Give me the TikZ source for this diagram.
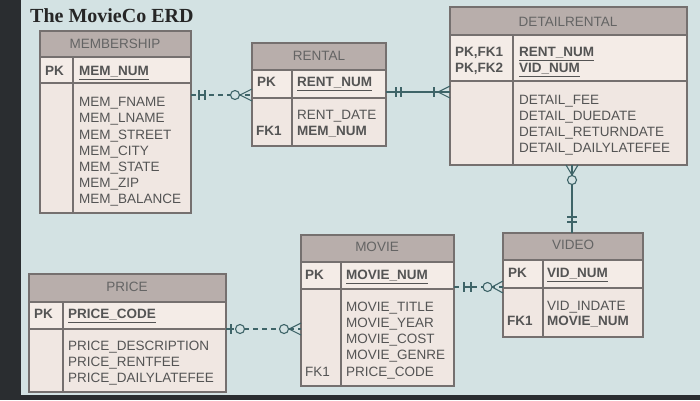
\documentclass[tikz,border=0pt]{standalone}
\usepackage{fontspec}
\setmainfont{Liberation Sans}
\newfontfamily\titlefont{Liberation Serif}
\definecolor{bgc}{HTML}{D3E2E3}
\definecolor{darkc}{HTML}{2A2D30}
\definecolor{hdrfill}{HTML}{B8AEAB}
\definecolor{bodyc}{HTML}{F0E7E2}
\definecolor{pkc}{HTML}{F4ECE7}
\definecolor{boxc}{HTML}{75706F}
\definecolor{hdrc}{HTML}{646464}
\definecolor{attrc}{HTML}{545454}
\definecolor{relc}{HTML}{3E6468}
\definecolor{titlec}{HTML}{262626}
\tikzset{
  ebox/.style={draw=boxc, line width=1.1pt, fill=bodyc, inner sep=0pt, outer sep=0pt, anchor=north west},
  boxline/.style={draw=boxc, line width=1.1pt},
  txt/.style={inner sep=0pt, text height=9.7pt, text depth=0pt, font=\fontsize{13.5}{15}\selectfont},
  hdrtxt/.style={txt, text=hdrc},
  attr/.style={txt, anchor=west, text=attrc},
  keylbl/.style={attr, font=\fontsize{13.5}{15}\selectfont\bfseries},
  rel/.style={draw=relc, line width=1.1pt},
  reld/.style={rel, dash pattern=on 5pt off 4pt},
}
% #1 name, #2 x1, #3 y1, #4 x2, #5 y2, #6 header bottom, #7 pk bottom, #8 divider x
\newcommand\erdentity[8]{%
  \node[ebox, minimum width={#4-#2}, minimum height={#5-#3}] (#1) at (#2,#3) {};
  \fill[hdrfill] (#2,#3) rectangle (#4,#6);
  \fill[pkc] (#2,#6) rectangle (#4,#7);
  \draw[boxline] (#2,#6) -- (#4,#6);
  \draw[boxline] (#2,#7) -- (#4,#7);
  \draw[boxline] (#8,#6) -- (#8,#5);
  \draw[boxline] (#1.north west) rectangle (#1.south east);
}
\begin{document}
\begin{tikzpicture}[x=1pt,y=-1pt]
\useasboundingbox (0,0) rectangle (700,400);
\fill[bgc] (0,0) rectangle (700,400);
\fill[darkc] (0,0) rectangle (21,400);
\fill[darkc] (0,395) rectangle (700,400);

\node[anchor=west, inner sep=0pt, text=titlec, font=\titlefont\bfseries\fontsize{20}{22}\selectfont] (title) at (30,16) {The MovieCo ERD};

% entities
\erdentity{membership}{40}{31}{191}{213}{57}{83}{73}
\erdentity{rental}{252}{43}{386}{146}{70}{98}{292}
\erdentity{detailrental}{450}{7}{687}{165}{35}{81}{513}
\erdentity{video}{503}{233}{643}{337}{260}{288}{543}
\erdentity{movie}{301}{235}{454}{386}{262}{289}{341}
\erdentity{price}{29}{274}{226}{392}{302}{329}{63}

% MEMBERSHIP texts
\node[hdrtxt] (memh) at (115,44) {MEMBERSHIP};
\node[keylbl] (mempk) at (45,71) {PK};
\node[keylbl] (memk) at (79,71) {\underline{MEM\_NUM}};
\node[attr] (m1) at (79,102) {MEM\_FNAME};
\node[attr] (m2) at (79,118) {MEM\_LNAME};
\node[attr] (m3) at (79,134.5) {MEM\_STREET};
\node[attr] (m4) at (79,150.5) {MEM\_CITY};
\node[attr] (m5) at (79,166.5) {MEM\_STATE};
\node[attr] (m6) at (79,182.5) {MEM\_ZIP};
\node[attr] (m7) at (79,199) {MEM\_BALANCE};

% RENTAL texts
\node[hdrtxt] (renh) at (319,56) {RENTAL};
\node[keylbl] (renpk) at (257,82) {PK};
\node[keylbl] (renk) at (297,82) {\underline{RENT\_NUM}};
\node[attr] (r1) at (297,115) {RENT\_DATE};
\node[keylbl] (r2) at (297,131) {MEM\_NUM};
\node[keylbl] (renfk) at (256,131) {FK1};

% DETAILRENTAL texts
\node[hdrtxt] (deth) at (568,22) {DETAILRENTAL};
\node[keylbl] (detpk1) at (455,52) {PK,FK1};
\node[keylbl] (detpk2) at (455,68) {PK,FK2};
\node[keylbl] (detk1) at (519,52) {\underline{RENT\_NUM}};
\node[keylbl] (detk2) at (519,68) {\underline{VID\_NUM}};
\node[attr] (d1) at (519,100) {DETAIL\_FEE};
\node[attr] (d2) at (519,116) {DETAIL\_DUEDATE};
\node[attr] (d3) at (519,132) {DETAIL\_RETURNDATE};
\node[attr] (d4) at (519,148) {DETAIL\_DAILYLATEFEE};

% VIDEO texts
\node[hdrtxt] (vidh) at (573,245) {VIDEO};
\node[keylbl] (vidpk) at (508,273) {PK};
\node[keylbl] (vidk) at (547,273) {\underline{VID\_NUM}};
\node[attr] (v1) at (547,306) {VID\_INDATE};
\node[keylbl] (v2) at (547,321) {MOVIE\_NUM};
\node[keylbl] (vidfk) at (507,321) {FK1};

% MOVIE texts
\node[hdrtxt] (movh) at (377,247) {MOVIE};
\node[keylbl] (movpk) at (305,275) {PK};
\node[keylbl] (movk) at (346,275) {\underline{MOVIE\_NUM}};
\node[attr] (mv1) at (346,307) {MOVIE\_TITLE};
\node[attr] (mv2) at (346,323) {MOVIE\_YEAR};
\node[attr] (mv3) at (346,339) {MOVIE\_COST};
\node[attr] (mv4) at (346,355) {MOVIE\_GENRE};
\node[attr] (mv5) at (346,372) {PRICE\_CODE};
\node[attr] (movfk) at (305,372) {FK1};

% PRICE texts
\node[hdrtxt] (prih) at (127,287) {PRICE};
\node[keylbl] (pripk) at (34,314) {PK};
\node[keylbl] (prik) at (68,314) {\underline{PRICE\_CODE}};
\node[attr] (p1) at (68,346) {PRICE\_DESCRIPTION};
\node[attr] (p2) at (68,362) {PRICE\_RENTFEE};
\node[attr] (p3) at (68,378) {PRICE\_DAILYLATEFEE};

% ---- connectors ----
\coordinate (yMR) at (0,95);
\coordinate (yRD) at (0,92);
\coordinate (xDV) at (572,0);
\coordinate (yMV) at (0,287);
\coordinate (yPM) at (0,329);

% MEMBERSHIP -- RENTAL
\coordinate (c1a) at (membership.east |- yMR);
\coordinate (c1b) at (rental.west |- yMR);
\draw[reld] (c1a) -- (c1b);
\draw[rel] (c1a) ++(8,-5) -- ++(0,10);
\draw[rel] (c1a) ++(14,-5) -- ++(0,10);
\draw[rel] (c1a) ++(8,0) -- ++(6,0);
\draw[rel] (c1b) ++(0,-6) -- ++(-12,6) -- ++(12,6);
\draw[rel, fill=bgc] (c1b) ++(-17,0) circle (4.5);

% RENTAL -- DETAILRENTAL
\coordinate (c2a) at (rental.east |- yRD);
\coordinate (c2b) at (detailrental.west |- yRD);
\draw[rel] (c2a) -- (c2b);
\draw[rel] (c2a) ++(10,-5) -- ++(0,10);
\draw[rel] (c2a) ++(15,-5) -- ++(0,10);
\draw[rel] (c2b) ++(-16,-5) -- ++(0,10);
\draw[rel] (c2b) ++(0,-6) -- ++(-12,6) -- ++(12,6);

% DETAILRENTAL -- VIDEO
\coordinate (c3a) at (detailrental.south -| xDV);
\coordinate (c3b) at (video.north -| xDV);
\draw[rel] (c3a) -- (c3b);
\draw[rel] (c3a) ++(-6,0) -- ++(6,10) -- ++(6,-10);
\draw[rel, fill=bgc] (c3a) ++(0,15) circle (4.5);
\draw[rel] (c3b) ++(-5,-16) -- ++(10,0);
\draw[rel] (c3b) ++(-5,-11) -- ++(10,0);

% MOVIE -- VIDEO
\coordinate (c4a) at (movie.east |- yMV);
\coordinate (c4b) at (video.west |- yMV);
\draw[reld] (c4a) -- (c4b);
\draw[rel] (c4a) ++(10,-5) -- ++(0,10);
\draw[rel] (c4a) ++(17,-5) -- ++(0,10);
\draw[rel] (c4a) ++(10,0) -- ++(7,0);
\draw[rel] (c4b) ++(0,-6) -- ++(-11,6) -- ++(11,6);
\draw[rel, fill=bgc] (c4b) ++(-15.5,0) circle (4.5);

% PRICE -- MOVIE
\coordinate (c5a) at (price.east |- yPM);
\coordinate (c5b) at (movie.west |- yPM);
\draw[reld] (c5a) -- (c5b);
\draw[rel] (c5a) -- ++(8,0);
\draw[rel] (c5a) ++(5,-5) -- ++(0,10);
\draw[rel, fill=bgc] (c5a) ++(14,0) circle (4.5);
\draw[rel] (c5b) ++(0,-6) -- ++(-12,6) -- ++(12,6);
\draw[rel, fill=bgc] (c5b) ++(-17,0) circle (4.5);
\end{tikzpicture}
\end{document}
